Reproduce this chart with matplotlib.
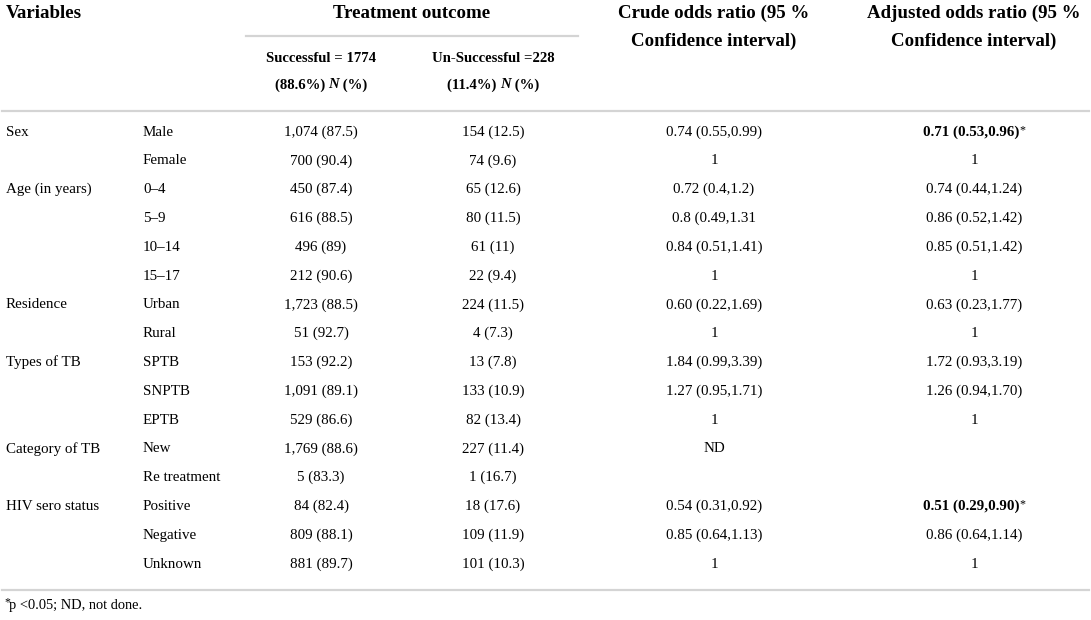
import matplotlib
matplotlib.use("Agg")
import matplotlib.pyplot as plt

W, H = 1091, 620

variables = ["Sex", "", "Age (in years)", "", "", "", "Residence", "",
             "Types of TB", "", "", "Category of TB", "", "HIV sero status", "", ""]
categories = ["Male", "Female", "0–4", "5–9", "10–14", "15–17", "Urban", "Rural",
              "SPTB", "SNPTB", "EPTB", "New", "Re treatment", "Positive", "Negative", "Unknown"]
successful = ["1,074 (87.5)", "700 (90.4)", "450 (87.4)", "616 (88.5)", "496 (89)", "212 (90.6)",
              "1,723 (88.5)", "51 (92.7)", "153 (92.2)", "1,091 (89.1)", "529 (86.6)",
              "1,769 (88.6)", "5 (83.3)", "84 (82.4)", "809 (88.1)", "881 (89.7)"]
unsuccessful = ["154 (12.5)", "74 (9.6)", "65 (12.6)", "80 (11.5)", "61 (11)", "22 (9.4)",
                "224 (11.5)", "4 (7.3)", "13 (7.8)", "133 (10.9)", "82 (13.4)",
                "227 (11.4)", "1 (16.7)", "18 (17.6)", "109 (11.9)", "101 (10.3)"]
crude_or = ["0.74 (0.55,0.99)", "1", "0.72 (0.4,1.2)", "0.8 (0.49,1.31", "0.84 (0.51,1.41)", "1",
            "0.60 (0.22,1.69)", "1", "1.84 (0.99,3.39)", "1.27 (0.95,1.71)", "1",
            "ND", "", "0.54 (0.31,0.92)", "0.85 (0.64,1.13)", "1"]
adjusted_or = ["0.71 (0.53,0.96)", "1", "0.74 (0.44,1.24)", "0.86 (0.52,1.42)", "0.85 (0.51,1.42)", "1",
               "0.63 (0.23,1.77)", "1", "1.72 (0.93,3.19)", "1.26 (0.94,1.70)", "1",
               "", "", "0.51 (0.29,0.90)", "0.86 (0.64,1.14)", "1"]
significant = [True, False, False, False, False, False, False, False,
               False, False, False, False, False, True, False, False]

FONT = "Liberation Serif"
BODY = 10.8
HEAD = 13.6
SUB = 10.6
LINE_COL = "#d4d4d4"

fig = plt.figure(figsize=(W / 100, H / 100), dpi=100)
renderer = fig.canvas.get_renderer()


def fy(y):
    return 1 - y / H


def fx(x):
    return x / W


def txt(x, y, s, ha="left", size=BODY, weight="normal", style="normal"):
    return fig.text(fx(x), fy(y), s, ha=ha, va="center", fontsize=size,
                    fontweight=weight, fontstyle=style, family=FONT)


def runs(xc, y, pieces, size=BODY):
    # pieces: (text, weight, style, size scale, dy); the whole run is centred on xc
    arts = []
    for s, w, st, sc, dy in pieces:
        arts.append(fig.text(0, 0, s, fontsize=size * sc, fontweight=w, fontstyle=st,
                             family=FONT, va="center", ha="left"))
    widths = [a.get_window_extent(renderer).width for a in arts]
    x = xc - sum(widths) / 2
    for a, wd, p in zip(arts, widths, pieces):
        a.set_position((fx(x), fy(y + p[4])))
        x += wd


def hline(x0, x1, y):
    fig.add_artist(plt.Line2D([fx(x0), fx(x1)], [fy(y), fy(y)], color=LINE_COL, lw=1.6))


# column anchors (pixels)
X_VAR, X_CAT = 6, 143
X_SUC, X_UNS, X_CR, X_ADJ = 321, 493, 714, 974

# header
txt(X_VAR, 13, "Variables", size=HEAD, weight="bold")
txt(412, 13, "Treatment outcome", ha="center", size=HEAD, weight="bold")
txt(X_CR, 13, "Crude odds ratio (95 %", ha="center", size=HEAD, weight="bold")
txt(X_CR, 41, "Confidence interval)", ha="center", size=HEAD, weight="bold")
txt(X_ADJ, 13, "Adjusted odds ratio (95 %", ha="center", size=HEAD, weight="bold")
txt(X_ADJ, 41, "Confidence interval)", ha="center", size=HEAD, weight="bold")
hline(246, 578, 36)
txt(X_SUC, 58, "Successful = 1774", ha="center", size=SUB, weight="bold")
txt(X_UNS, 58, "Un-Successful =228", ha="center", size=SUB, weight="bold")
runs(X_SUC, 85, [("(88.6%) ", "bold", "normal", 1, 0), ("N", "bold", "italic", 1, 0),
                 (" (%)", "bold", "normal", 1, 0)], size=SUB)
runs(X_UNS, 85, [("(11.4%) ", "bold", "normal", 1, 0), ("N", "bold", "italic", 1, 0),
                 (" (%)", "bold", "normal", 1, 0)], size=SUB)
hline(2, W - 2, 111)

# body rows
y0, step = 132, 28.8
for i in range(len(categories)):
    y = y0 + i * step
    if variables[i]:
        txt(X_VAR, y, variables[i])
    txt(X_CAT, y, categories[i])
    txt(X_SUC, y, successful[i], ha="center")
    txt(X_UNS, y, unsuccessful[i], ha="center")
    if crude_or[i]:
        txt(X_CR, y, crude_or[i], ha="center")
    if adjusted_or[i]:
        if significant[i]:
            runs(X_ADJ, y, [(adjusted_or[i], "bold", "normal", 1, 0),
                            ("*", "normal", "normal", 0.8, -2)])
        else:
            txt(X_ADJ, y, adjusted_or[i], ha="center")

hline(2, W - 2, 590)

# footnote
fig.text(fx(4), fy(602), "*", fontsize=8.5, family=FONT, va="center", ha="left")
txt(9, 605, "p <0.05; ND, not done.", size=10.4)

fig.savefig("out.png", dpi=100)
